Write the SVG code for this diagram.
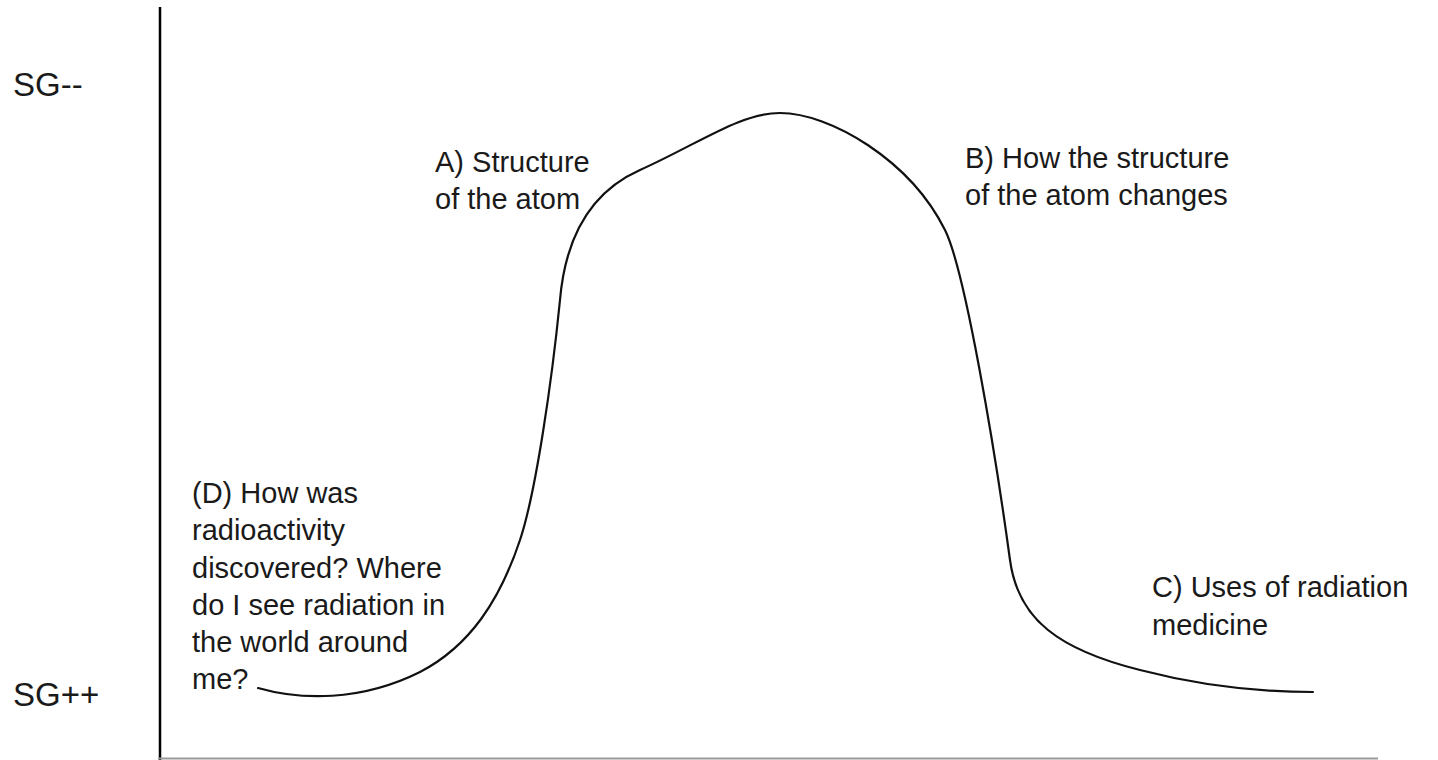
<svg xmlns="http://www.w3.org/2000/svg" width="1438" height="760" viewBox="0 0 1438 760">
<style>
text{font-family:"Liberation Sans",Arial,sans-serif;font-size:29px;fill:#1a1a1a}
.sg{font-size:33px}
.ax{stroke:#000;stroke-width:2.5;fill:none}
.bx{stroke:#999;stroke-width:2;fill:none}
.cv{stroke:#111;stroke-width:2.2;fill:none;stroke-linecap:round}
</style>
<rect width="1438" height="760" fill="#fff"/>
<g id="axes">
<line class="ax" x1="160" y1="7" x2="160" y2="760"/>
<line class="bx" x1="158" y1="758.5" x2="1378" y2="758.5"/>
</g>
<g id="labels-y">
<text class="sg" x="13" y="96">SG--</text>
<text class="sg" x="13" y="706">SG++</text>
</g>
<g id="connectors">
<path class="cv" d="M258,688 C300,700 360,702 420,672 C470,646 500,600 520,540 C536,492 552,380 560,300 C566,230 595,190 640,170 C700,143 740,113 780,113 C830,113 910,160 945,230 C965,270 995,450 1010,560 C1018,620 1060,650 1140,670 C1190,683 1250,692 1313,692"/>
</g>
<g id="nodeA">
<text x="435" y="172">A) Structure</text>
<text x="435" y="209">of the atom</text>
</g>
<g id="nodeB">
<text x="965" y="168">B) How the structure</text>
<text x="965" y="205">of the atom changes</text>
</g>
<g id="nodeC">
<text x="1152" y="597">C) Uses of radiation</text>
<text x="1152" y="635">medicine</text>
</g>
<g id="nodeD">
<text x="192" y="503">(D) How was</text>
<text x="192" y="540">radioactivity</text>
<text x="192" y="578">discovered? Where</text>
<text x="192" y="615">do I see radiation in</text>
<text x="192" y="652">the world around</text>
<text x="192" y="689">me?</text>
</g>
</svg>
